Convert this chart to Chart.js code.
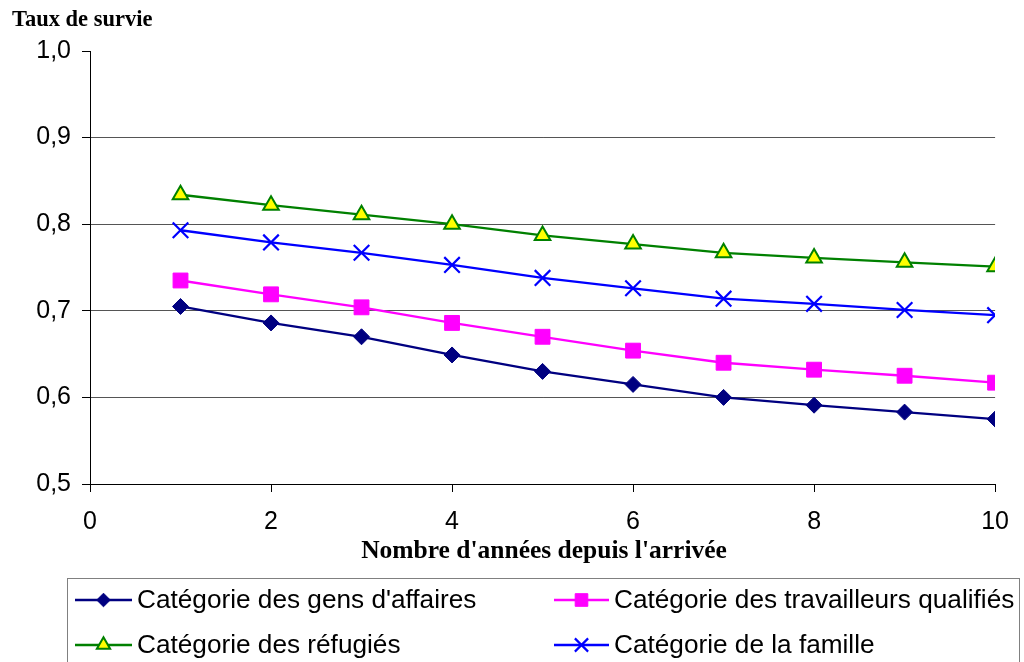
<!DOCTYPE html>
<html lang="fr">
<head>
<meta charset="utf-8">
<title>Taux de survie selon la catégorie d'immigration</title>
<script src="https://cdn.jsdelivr.net/npm/chart.js@4/dist/chart.umd.min.js"></script>
<style>
  html, body { margin: 0; padding: 0; background: #fff; }
  #chart { display: block; }
</style>
</head>
<body>
<canvas id="chart" width="1024" height="662"></canvas>
<script>
// Années écoulées depuis l'arrivée
const years = [1, 2, 3, 4, 5, 6, 7, 8, 9, 10];

// Taux de survie par catégorie
const affaires   = [0.705, 0.686, 0.670, 0.649, 0.630, 0.615, 0.600, 0.591, 0.583, 0.575];
const qualifies  = [0.735, 0.719, 0.704, 0.686, 0.670, 0.654, 0.640, 0.632, 0.625, 0.617];
const refugies   = [0.834, 0.822, 0.811, 0.800, 0.787, 0.777, 0.767, 0.761, 0.756, 0.751];
const famille    = [0.793, 0.779, 0.767, 0.753, 0.738, 0.726, 0.714, 0.708, 0.701, 0.695];

const seriesNames = [
  "Catégorie des gens d'affaires",
  "Catégorie des travailleurs qualifiés",
  "Catégorie des réfugiés",
  "Catégorie de la famille"
];

// Axes
const xTicks = [0, 2, 4, 6, 8, 10];
const yTicks = [0.5, 0.6, 0.7, 0.8, 0.9, 1.0];
const yTitle = "Taux de survie";
const xTitle = "Nombre d'années depuis l'arrivée";

const SANS = "'Liberation Sans', Arial, sans-serif";
const SERIF = "'Liberation Serif', 'Times New Roman', serif";

function points(values) {
  return years.map((x, i) => ({ x: x, y: values[i] }));
}

const datasets = [
  { label: seriesNames[0], data: points(affaires),
    borderColor: '#000080', backgroundColor: '#000080',
    pointStyle: 'rectRot', pointRadius: 8, pointBorderWidth: 1,
    pointBackgroundColor: '#000080', pointBorderColor: '#000080' },
  { label: seriesNames[1], data: points(qualifies),
    borderColor: '#FF00FF', backgroundColor: '#FF00FF',
    pointStyle: 'rect', pointRadius: 10.5, pointBorderWidth: 1,
    pointBackgroundColor: '#FF00FF', pointBorderColor: '#FF00FF' },
  { label: seriesNames[2], data: points(refugies),
    borderColor: '#008000', backgroundColor: '#FFFF00',
    pointStyle: 'triangle', pointRadius: 9, pointBorderWidth: 2,
    pointBackgroundColor: '#FFFF00', pointBorderColor: '#008000' },
  { label: seriesNames[3], data: points(famille),
    borderColor: '#0000FF', backgroundColor: '#0000FF',
    pointStyle: 'crossRot', pointRadius: 11, pointBorderWidth: 2.2,
    pointBackgroundColor: '#0000FF', pointBorderColor: '#0000FF' }
];

// Titres d'axes et légende encadrée sous le graphique
const decorations = {
  id: 'decorations',
  afterDraw(chart) {
    const ctx = chart.ctx;
    ctx.save();

    ctx.fillStyle = '#000';
    ctx.textBaseline = 'alphabetic';
    ctx.font = 'bold 22.5px ' + SERIF;
    ctx.textAlign = 'left';
    ctx.fillText(yTitle, 12, 26);

    ctx.font = 'bold 25.5px ' + SERIF;
    ctx.textAlign = 'center';
    ctx.fillText(xTitle, 544, 558);

    // cadre de la légende
    ctx.strokeStyle = '#808080';
    ctx.lineWidth = 1;
    ctx.strokeRect(67.5, 578.5, 952, 100);

    const cols = [{ x0: 75, x1: 132, text: 137 }, { x0: 554, x1: 609, text: 614 }];
    const rows = [600, 645];
    chart.data.datasets.forEach((ds, i) => {
      const c = cols[i % 2];
      const y = rows[Math.floor(i / 2)];
      ctx.strokeStyle = ds.borderColor;
      ctx.lineWidth = 2.3;
      ctx.beginPath();
      ctx.moveTo(c.x0, y);
      ctx.lineTo(c.x1, y);
      ctx.stroke();

      ctx.fillStyle = ds.pointBackgroundColor;
      ctx.strokeStyle = ds.pointBorderColor;
      ctx.lineWidth = ds.pointBorderWidth;
      Chart.helpers.drawPoint(ctx, {
        pointStyle: ds.pointStyle,
        radius: ds.pointRadius * 0.85,
        borderWidth: ds.pointBorderWidth,
        rotation: 0
      }, (c.x0 + c.x1) / 2, y);

      ctx.fillStyle = '#000';
      ctx.font = '26.2px ' + SANS;
      ctx.textAlign = 'left';
      ctx.textBaseline = 'middle';
      ctx.fillText(ds.label, c.text, y + 1);
    });
    ctx.restore();
  }
};

new Chart(document.getElementById('chart'), {
  type: 'line',
  data: { datasets: datasets },
  options: {
    responsive: false,
    animation: false,
    layout: { padding: { left: 0, top: 51, right: 27, bottom: 0 } },
    elements: {
      line: { borderWidth: 2.3, tension: 0, fill: false }
    },
    plugins: {
      legend: { display: false },
      tooltip: { enabled: false },
      title: { display: false }
    },
    scales: {
      x: {
        type: 'linear',
        min: 0, max: 10,
        afterBuildTicks(scale) { scale.ticks = xTicks.map(v => ({ value: v })); },
        afterFit(scale) { scale.height = 178; },
        ticks: { color: '#000', font: { family: SANS, size: 25 }, padding: 15, maxRotation: 0 },
        grid: { drawOnChartArea: false, drawTicks: true, tickLength: 8, tickColor: '#000' },
        border: { color: '#000', width: 1 }
      },
      y: {
        min: 0.5, max: 1.0,
        afterBuildTicks(scale) { scale.ticks = yTicks.map(v => ({ value: v })); },
        afterFit(scale) { scale.width = 90; },
        ticks: {
          color: '#000', font: { family: SANS, size: 25 }, padding: 11,
          callback: v => v.toFixed(1).replace('.', ',')
        },
        grid: {
          color: c => (c.tick && (c.tick.value > 0.999 || c.tick.value < 0.501)) ? 'rgba(0,0,0,0)' : '#555',
          lineWidth: 1,
          drawTicks: true, tickLength: 8, tickColor: '#000'
        },
        border: { color: '#000', width: 1 }
      }
    }
  },
  plugins: [decorations]
});
</script>
</body>
</html>
